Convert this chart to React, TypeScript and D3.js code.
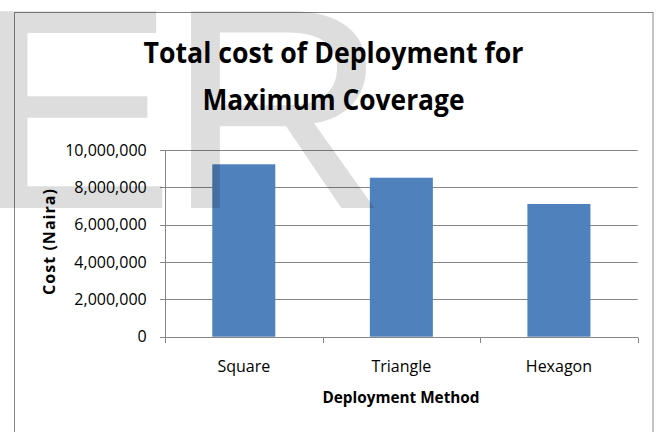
import React from "react";
import * as d3 from "d3";

const categories = ["Square", "Triangle", "Hexagon"];
const costs = [9234000, 8516000, 7107000];
const yTicks = [0, 2000000, 4000000, 6000000, 8000000, 10000000];
const titleLines = ["Total cost of Deployment for", "Maximum Coverage"];
const xTitle = "Deployment Method";
const yTitle = "Cost (Naira)";

const W = 662;
const H = 432;
const plot = { left: 165, right: 637.7, top: 150, bottom: 336.7 };

export default function App() {
  const x = d3
    .scaleBand<string>()
    .domain(categories)
    .range([plot.left, plot.right])
    .paddingInner(0.6)
    .paddingOuter(0.3);
  const y = d3.scaleLinear().domain([0, 10000000]).range([plot.bottom, plot.top]);
  const fmt = d3.format(",");
  const step = (plot.right - plot.left) / categories.length;
  const boundaries = d3.range(categories.length + 1).map((i) => plot.left + i * step);
  const snap = (v: number) => Math.round(v) + 0.5;
  const font = "'Open Sans', sans-serif";
  const grid = "#868686";

  return (
    <svg
      width={W}
      height={H}
      style={{ position: "absolute", left: 0, top: 0, background: "#fff" }}
      fontFamily={font}
    >
      <rect x={0} y={0} width={W} height={H} fill="#fff" />
      <rect x={14.5} y={12.5} width={638.5} height={440} fill="none" stroke={grid} strokeWidth={1} />

      {titleLines.map((t, i) => (
        <text
          key={t}
          x={333.5}
          y={63.3 + i * 46.7}
          textAnchor="middle"
          fontWeight="bold"
          fontSize={28}
          textLength={i === 0 ? 380 : 262}
          lengthAdjust="spacingAndGlyphs"
          fill="#000"
        >
          {t}
        </text>
      ))}

      {/* gridlines and y ticks */}
      {yTicks.map((v) => (
        <g key={v}>
          <line
            x1={plot.left - 5}
            x2={plot.right}
            y1={snap(y(v))}
            y2={snap(y(v))}
            stroke={grid}
            strokeWidth={1}
          />
          <text
            x={146.7}
            y={y(v)}
            dy="0.35em"
            textAnchor="end"
            fontSize={16}
            fill="#000"
          >
            {fmt(v)}
          </text>
        </g>
      ))}

      {/* y axis line */}
      <line x1={snap(plot.left)} x2={snap(plot.left)} y1={plot.top} y2={snap(plot.bottom)} stroke={grid} />

      {/* bars */}
      {categories.map((c, i) => (
        <rect
          key={c}
          x={x(c)!}
          y={y(costs[i])}
          width={x.bandwidth()}
          height={plot.bottom - y(costs[i])}
          fill="#4F81BD"
        />
      ))}

      {/* x axis */}
      <line x1={plot.left} x2={plot.right} y1={snap(plot.bottom)} y2={snap(plot.bottom)} stroke={grid} />
      {boundaries.map((b, i) => (
        <line key={i} x1={snap(b)} x2={snap(b)} y1={snap(plot.bottom)} y2={343} stroke={grid} />
      ))}
      {categories.map((c) => (
        <text
          key={c}
          x={x(c)! + x.bandwidth() / 2}
          y={371.5}
          textAnchor="middle"
          fontSize={16}
          fill="#000"
        >
          {c}
        </text>
      ))}

      <text
        x={401}
        y={403.3}
        textAnchor="middle"
        fontWeight="bold"
        fontSize={16}
        textLength={157}
        lengthAdjust="spacingAndGlyphs"
        fill="#000"
      >
        {xTitle}
      </text>

      <text
        transform="translate(54.5,242) rotate(-90)"
        textAnchor="middle"
        fontWeight="bold"
        fontSize={16}
        textLength={106}
        lengthAdjust="spacing"
        fill="#000"
      >
        {yTitle}
      </text>

      {/* watermark */}
      <g fontFamily="'Liberation Sans', Arial, sans-serif" fontSize={286} fill="#000" fillOpacity={0.135}>
        <text x={-24} y={208} transform="scale(1.05,1)">E</text>
        <text x={167.5} y={208} transform="translate(190,0) scale(1.08,1) translate(-190,0)">R</text>
      </g>
    </svg>
  );
}
